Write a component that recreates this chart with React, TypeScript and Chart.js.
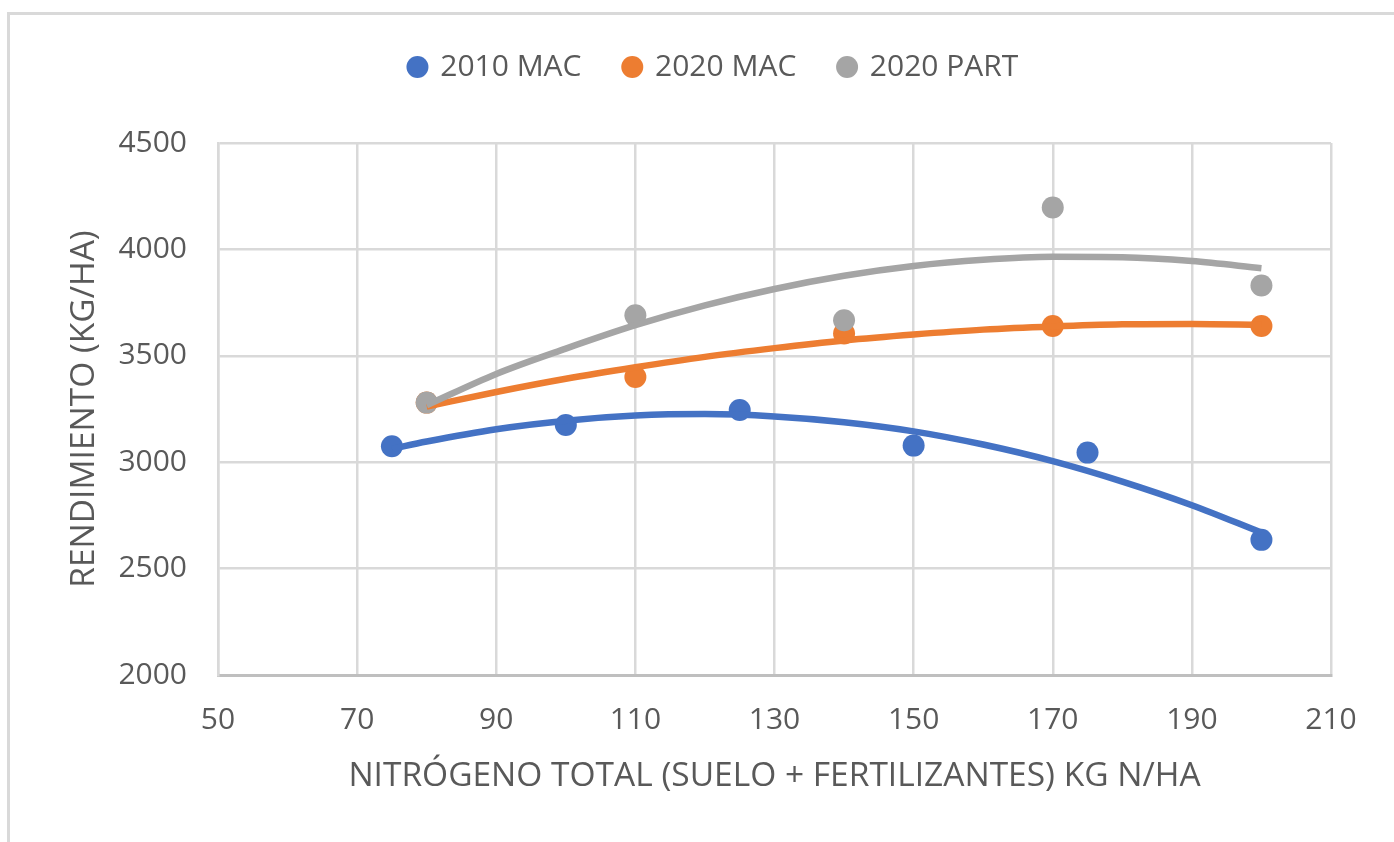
import React, { useEffect, useRef } from "react";
import { Chart, registerables } from "chart.js";

Chart.register(...registerables);

// ---- data ----
const xTicks = [50, 70, 90, 110, 130, 150, 170, 190, 210];
const yTicks = [2000, 2500, 3000, 3500, 4000, 4500];

const seriesLabels = ["2010 MAC", "2020 MAC", "2020 PART"];

const n2010 = [75, 100, 125, 150, 175, 200];
const mac2010 = [3075, 3175, 3245, 3078, 3045, 2635];

const n2020 = [80, 110, 140, 170, 200];
const mac2020 = [3280, 3400, 3605, 3640, 3640];
const part2020 = [3280, 3690, 3667, 4197, 3830];

// trend lines (polynomial)
const trend2010X = [75, 80, 90, 100, 110, 120, 130, 140, 150, 160, 170, 180, 190, 200];
const trend2010Y = [3063, 3097, 3155, 3195, 3219, 3226, 3215, 3188, 3145, 3083, 3005, 2909, 2798, 2669];
const trend2020X = [80, 90, 100, 110, 120, 130, 140, 150, 160, 170, 180, 190, 200];
const trendMac2020Y = [3262, 3330, 3392, 3446, 3495, 3536, 3572, 3600, 3623, 3638, 3648, 3650, 3646];
const trendPart2020Y = [3268, 3415, 3534, 3644, 3737, 3814, 3876, 3922, 3951, 3965, 3963, 3945, 3911];

const BLUE = "#4472C4";
const ORANGE = "#ED7D31";
const GRAY = "#A5A5A5";
const TEXT = "#595959";

const pts = (xs: number[], ys: number[]) => xs.map((x, i) => ({ x, y: ys[i] }));

export default function App() {
  const ref = useRef<HTMLCanvasElement | null>(null);

  useEffect(() => {
    if (!ref.current) return;
    Chart.defaults.font.family = "'Open Sans', sans-serif";
    Chart.defaults.color = TEXT;

    const pointDs = (label: string, xs: number[], ys: number[], color: string, order: number) => ({
      label,
      data: pts(xs, ys),
      backgroundColor: color,
      borderColor: color,
      borderWidth: 0,
      pointRadius: 11,
      pointHoverRadius: 11,
      showLine: false,
      order,
    });
    const trendDs = (label: string, xs: number[], ys: number[], color: string, order: number) => ({
      label,
      data: pts(xs, ys),
      borderColor: color,
      backgroundColor: color,
      borderWidth: 6.5,
      pointRadius: 0,
      pointHoverRadius: 0,
      showLine: true,
      fill: false,
      cubicInterpolationMode: "monotone" as const,
      order,
    });

    const chart = new Chart(ref.current, {
      type: "scatter",
      data: {
        datasets: [
          pointDs(seriesLabels[0], n2010, mac2010, BLUE, 3),
          pointDs(seriesLabels[1], n2020, mac2020, ORANGE, 2),
          pointDs(seriesLabels[2], n2020, part2020, GRAY, 1),
          trendDs("trend 2010 MAC", trend2010X, trend2010Y, BLUE, -1),
          trendDs("trend 2020 MAC", trend2020X, trendMac2020Y, ORANGE, -2),
          trendDs("trend 2020 PART", trend2020X, trendPart2020Y, GRAY, -3),
        ] as any,
      },
      options: {
        animation: false,
        responsive: false,
        events: [],
        layout: { padding: { left: 34, right: 0, top: 9, bottom: 0 } },
        plugins: {
          tooltip: { enabled: false },
          legend: {
            position: "top",
            labels: {
              usePointStyle: true,
              boxWidth: 15.56,
              boxHeight: 15.56,
              padding: 43,
              color: TEXT,
              font: { size: 30 },
              filter: (item: any) => item.datasetIndex < 3,
              sort: (a: any, b: any) => a.datasetIndex - b.datasetIndex,
            },
          },
        },
        scales: {
          x: {
            type: "linear",
            position: "bottom",
            min: 50,
            max: 210,
            afterBuildTicks: (s: any) => {
              s.ticks = xTicks.map((v) => ({ value: v }));
            },
            afterFit: (s: any) => {
              s.height = 167;
            },
            ticks: {
              font: { size: 30 },
              color: TEXT,
              padding: 27,
              maxRotation: 0,
              autoSkip: false,
              callback: (v: any) => String(v),
            },
            grid: { color: "#d9d9d9", lineWidth: 2.5, drawTicks: false },
            border: { color: "#bfbfbf", width: 3 },
            title: {
              display: true,
              text: "NITRÓGENO TOTAL (SUELO + FERTILIZANTES) KG N/HA",
              font: { size: 33.5 },
              color: TEXT,
              padding: { top: 0, bottom: 45 },
            },
          },
          y: {
            type: "linear",
            position: "left",
            min: 2000,
            max: 4500,
            afterBuildTicks: (s: any) => {
              s.ticks = yTicks.map((v) => ({ value: v }));
            },
            afterFit: (s: any) => {
              s.width = 184;
            },
            ticks: { font: { size: 30 }, color: TEXT, padding: 31, callback: (v: any) => String(v) },
            grid: { color: "#d9d9d9", lineWidth: 2.5, drawTicks: false },
            border: { color: "#d9d9d9", width: 2.5 },
            title: {
              display: true,
              text: "RENDIMIENTO (KG/HA)",
              font: { size: 33.5 },
              color: TEXT,
              padding: { top: 30, bottom: 0 },
            },
          },
          xTop: {
            type: "linear",
            position: "top",
            display: true,
            grid: { display: false, drawTicks: false },
            ticks: { display: false },
            border: { display: false },
            afterFit: (s: any) => {
              s.height = 51;
            },
          },
          yRight: {
            type: "linear",
            position: "right",
            display: true,
            grid: { display: false, drawTicks: false },
            ticks: { display: false },
            border: { display: false },
            afterFit: (s: any) => {
              s.width = 63;
            },
          },
        } as any,
      },
    });
    return () => chart.destroy();
  }, []);

  return (
    <div
      style={{
        position: "fixed",
        left: 0,
        top: 0,
        width: 1394,
        height: 842,
        overflow: "hidden",
        background: "#ffffff",
      }}
    >
      <div
        style={{
          position: "absolute",
          left: 7,
          top: 12,
          width: 1440,
          height: 900,
          borderTop: "3px solid #d9d9d9",
          borderLeft: "3px solid #d9d9d9",
          boxSizing: "border-box",
        }}
      />
      <canvas
        ref={ref}
        width={1394}
        height={842}
        style={{ position: "absolute", left: 0, top: 0, width: 1394, height: 842 }}
      />
    </div>
  );
}
